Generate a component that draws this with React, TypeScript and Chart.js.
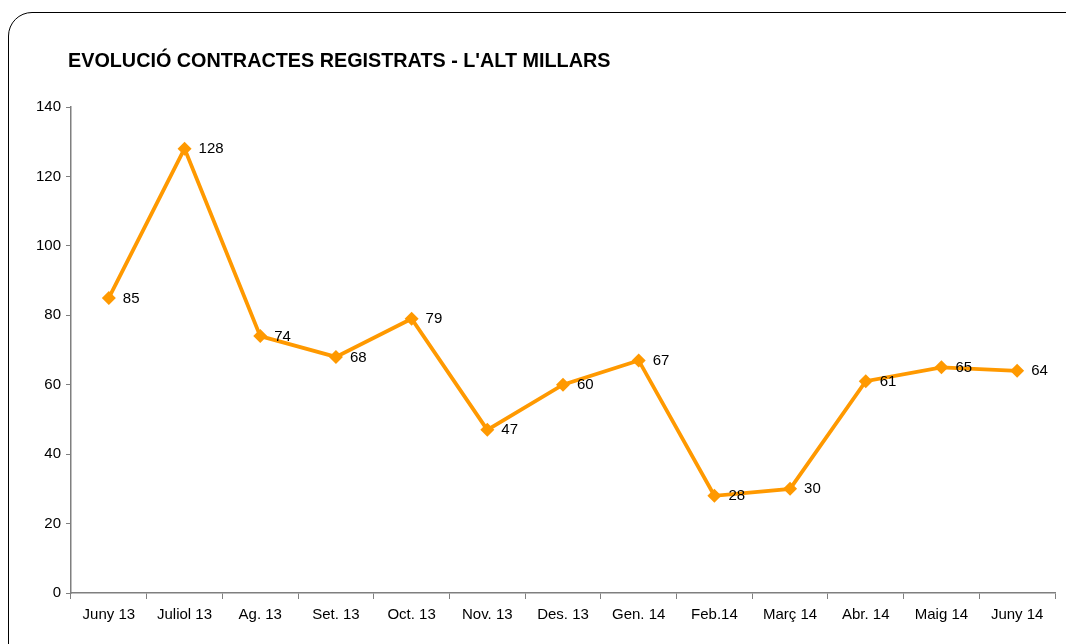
import React, { useEffect, useRef } from "react";
import { Chart, registerables } from "chart.js";

Chart.register(...registerables);

const TITLE = "EVOLUCIÓ CONTRACTES REGISTRATS - L'ALT MILLARS";
const categories = [
  "Juny 13", "Juliol 13", "Ag. 13", "Set. 13", "Oct. 13", "Nov. 13", "Des. 13",
  "Gen. 14", "Feb.14", "Març 14", "Abr. 14", "Maig 14", "Juny 14",
];
const contractes = [85, 128, 74, 68, 79, 47, 60, 67, 28, 30, 61, 65, 64];
const yMin = 0;
const yMax = 140;
const yStep = 20;

const FONT = "'Liberation Sans', Arial, sans-serif";
const ORANGE = "#FF9900";
const AXIS = "#7f7f7f";

const titlePlugin = {
  id: "customTitle",
  afterDraw(chart: any) {
    const ctx = chart.ctx;
    ctx.save();
    ctx.font = `bold 19.8px ${FONT}`;
    ctx.fillStyle = "#000";
    ctx.textAlign = "left";
    ctx.textBaseline = "alphabetic";
    ctx.fillText(TITLE, 68, 67);
    ctx.restore();
  },
};

const labelPlugin = {
  id: "pointLabels",
  afterDatasetsDraw(chart: any) {
    const ctx = chart.ctx;
    const meta = chart.getDatasetMeta(0);
    ctx.save();
    ctx.font = `15px ${FONT}`;
    ctx.fillStyle = "#000";
    ctx.textAlign = "left";
    ctx.textBaseline = "middle";
    meta.data.forEach((pt: any, i: number) => {
      ctx.fillText(String(contractes[i]), pt.x + 14, pt.y + 0.5);
    });
    ctx.restore();
  },
};

export default function App() {
  const ref = useRef<HTMLCanvasElement | null>(null);
  useEffect(() => {
    if (!ref.current) return;
    const chart = new Chart(ref.current, {
      type: "line",
      data: {
        labels: categories,
        datasets: [
          {
            data: contractes,
            borderColor: ORANGE,
            backgroundColor: ORANGE,
            borderWidth: 3.8,
            pointStyle: "rectRot",
            pointRadius: 7,
            pointBackgroundColor: ORANGE,
            pointBorderColor: ORANGE,
            pointBorderWidth: 0,
            tension: 0,
          },
        ],
      },
      options: {
        animation: false,
        responsive: false,
        maintainAspectRatio: false,
        layout: { padding: { top: 107, right: 11, left: 0, bottom: 0 } },
        plugins: {
          legend: { display: false },
          title: { display: false },
          tooltip: { enabled: false },
        },
        scales: {
          x: {
            type: "category",
            offset: true,
            grid: {
              offset: true,
              drawOnChartArea: false,
              drawTicks: true,
              tickLength: 6,
              color: AXIS,
              lineWidth: 1,
            },
            border: { display: true, color: AXIS, width: 1.5 },
            ticks: {
              font: { family: FONT, size: 15 },
              color: "#000",
              padding: 7,
              maxRotation: 0,
              autoSkip: false,
            },
            afterFit(scale: any) {
              scale.height = 51;
            },
          },
          y: {
            min: yMin,
            max: yMax,
            grid: {
              drawOnChartArea: false,
              drawTicks: true,
              tickLength: 5,
              color: AXIS,
              lineWidth: 1,
            },
            border: { display: true, color: AXIS, width: 1.5 },
            ticks: {
              stepSize: yStep,
              font: { family: FONT, size: 15 },
              color: "#000",
              padding: 5,
            },
            afterFit(scale: any) {
              scale.width = 71;
            },
          },
        },
      },
      plugins: [titlePlugin, labelPlugin],
    });
    return () => chart.destroy();
  }, []);

  return (
    <div style={{ position: "absolute", left: 0, top: 0, width: 1066, height: 644, overflow: "hidden", background: "#fff" }}>
      <div
        style={{
          position: "absolute",
          left: 8,
          top: 12,
          width: 1090,
          height: 660,
          border: "1.5px solid #000",
          borderRadius: 24,
          boxSizing: "border-box",
        }}
      />
      <canvas ref={ref} width={1066} height={644} style={{ position: "absolute", left: 0, top: 0 }} />
    </div>
  );
}
